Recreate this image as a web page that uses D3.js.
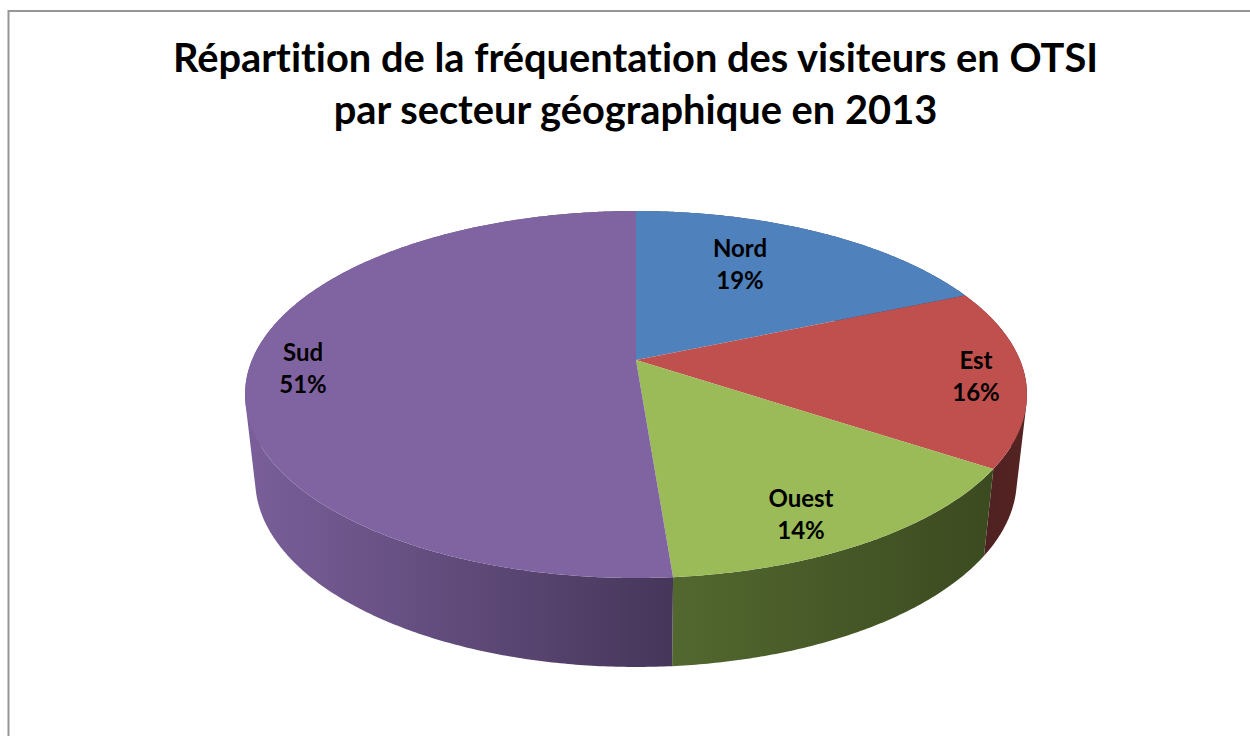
<!DOCTYPE html>
<html>
<head>
<meta charset="utf-8">
<script src="https://cdn.jsdelivr.net/npm/d3@7"></script>
<style>
html, body { margin: 0; padding: 0; background: #fff; }
svg { display: block; }
text { font-family: Lato, "Open Sans", sans-serif; font-weight: 700; fill: #000; font-variant-ligatures: none; }
</style>
</head>
<body>
<div id="chart"></div>
<script>
var titleLines = ["Répartition de la fréquentation des visiteurs en OTSI",
                  "par secteur géographique en 2013"];
var categories = ["Nord", "Est", "Ouest", "Sud"];
var shares = [18.6, 15.7, 14.45, 51.25];
var topColors = ["#4f81bd", "#c0504d", "#9bbb59", "#8064a2"];
// side wall colours, left end then right end
var sideColors = [["#2a4565", "#2a4565"], ["#4a1f1e", "#552423"], ["#52682f", "#3c4a20"], ["#7a5f9a", "#46365a"]];

var width = 1250, height = 736;

var svg = d3.select("#chart")
            .append("svg")
            .attr("width", width)
            .attr("height", height);

// frame of the chart area, the right and bottom sides are cut off by the crop
svg.append("path")
   .attr("d", "M8.5," + height + "V11H" + width)
   .attr("fill", "none")
   .attr("stroke", "#969696")
   .attr("stroke-width", 2);

svg.selectAll("text.title")
   .data(titleLines)
   .enter()
   .append("text")
       .attr("class", "title")
       .attr("x", 635.5)
       .attr("y", function(d, i) { return 72 + i * 52; })
       .attr("text-anchor", "middle")
       .attr("font-size", 39.8)
       .text(function(d) { return d; });

// Perspective: the near edge of the disc is larger than the far edge
var persp = 0.188;
var topDisc = {cy: 360, a: 384, b: 177},
    baseDisc = {cy: 444.8, a: 374, b: 180.4};

function project(disc, angle, r) {
    var u = Math.sin(angle) * r,
        v = -Math.cos(angle) * r,
        w = 1 - persp * v;
    return [636 + disc.a * u / w, disc.cy + disc.b * v / w];
}

var pie = d3.pie().sort(null).value(function(d) { return d; });
var slices = pie(shares);

// Angles along the rim of a slice, one every half degree
function rimAngles(d) {
    var steps = Math.max(2, Math.ceil((d.endAngle - d.startAngle) / (Math.PI / 360)));
    return d3.range(steps + 1).map(function(i) {
        return d.startAngle + (d.endAngle - d.startAngle) * i / steps;
    });
}

var line = d3.line();
var defs = svg.append("defs");

// Each wall is one path of small quads, all wound the same way so that
// they still fill where the wall folds over at the left and right edges
slices.forEach(function(d, i) {
    var angles = rimAngles(d);
    var xs = angles.map(function(a) { return project(topDisc, a, 1)[0]; })
                   .concat(angles.map(function(a) { return project(baseDisc, a, 1)[0]; }));

    var grad = defs.append("linearGradient")
                   .attr("id", "side" + i)
                   .attr("gradientUnits", "userSpaceOnUse")
                   .attr("x1", d3.min(xs)).attr("x2", d3.max(xs))
                   .attr("y1", 0).attr("y2", 0);
    grad.append("stop").attr("offset", 0).attr("stop-color", sideColors[i][0]);
    grad.append("stop").attr("offset", 1).attr("stop-color", sideColors[i][1]);

    var wall = angles.slice(1).map(function(a, j) {
        var prev = angles[j],
            quad = [project(topDisc, prev, 1), project(topDisc, a, 1),
                    project(baseDisc, a, 1), project(baseDisc, prev, 1)];
        if (d3.polygonArea(quad) < 0) quad.reverse();
        return line(quad) + "Z";
    }).join("");

    svg.append("path")
       .attr("d", wall)
       .attr("fill", "url(#side" + i + ")");
});

// top faces go over the walls
svg.selectAll("path.slice")
   .data(slices)
   .enter()
   .append("path")
       .attr("class", "slice")
       .attr("d", function(d) {
           var rim = rimAngles(d).map(function(a) { return project(topDisc, a, 1); });
           return line([project(topDisc, 0, 0)].concat(rim)) + "Z";
       })
       .attr("fill", function(d, i) { return topColors[i]; });

// label centres
var labelX = [740, 976, 801, 303],
    labelY = [248, 360, 498, 352];

slices.forEach(function(d, i) {
    var label = svg.append("text")
                   .attr("text-anchor", "middle")
                   .attr("font-size", 24);
    label.append("tspan")
         .attr("x", labelX[i])
         .attr("y", labelY[i] + 8.5)
         .text(categories[i]);
    label.append("tspan")
         .attr("x", labelX[i])
         .attr("y", labelY[i] + 40.5)
         .text(Math.round(d.value) + "%");
});
</script>
</body>
</html>
